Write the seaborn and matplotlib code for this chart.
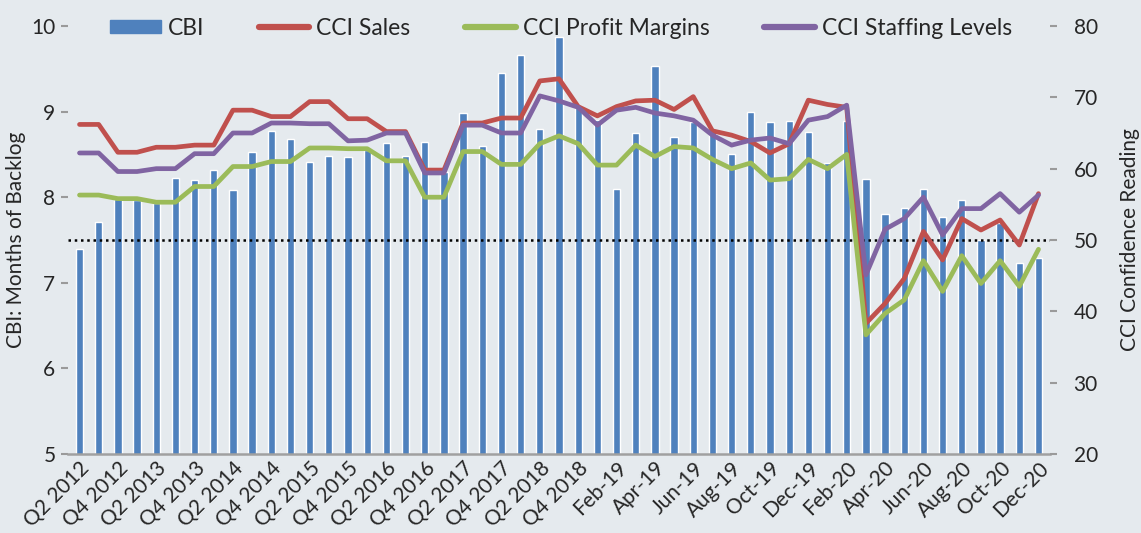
import numpy as np
import pandas as pd
import matplotlib
matplotlib.use("Agg")
import matplotlib.pyplot as plt
import seaborn as sns
from matplotlib.lines import Line2D
from matplotlib.patches import Patch

# ---------------- data ----------------
quarters = ["Q2 2012", "Q3 2012", "Q4 2012"] + [f"Q{q} {y}" for y in range(2013, 2019) for q in range(1, 5)]
months = [f"{m}-{y}" for y in ("19", "20") for m in
          ("Jan", "Feb", "Mar", "Apr", "May", "Jun", "Jul", "Aug", "Sep", "Oct", "Nov", "Dec")]
periods = quarters + months

cbi = [7.40, 7.71, 7.98, 7.97, 7.93, 8.23, 8.20, 8.32, 8.08, 8.53,
       8.77, 8.68, 8.41, 8.48, 8.47, 8.55, 8.63, 8.48, 8.64, 8.30,
       8.98, 8.60, 9.45, 9.66, 8.80, 9.87, 9.06, 8.90, 8.10, 8.75,
       9.53, 8.70, 8.88, 8.78, 8.50, 9.00, 8.88, 8.89, 8.76, 8.40,
       8.89, 8.21, 7.80, 7.87, 8.10, 7.77, 7.97, 7.50, 7.70, 7.23, 7.29]

cci_sales = [66.2, 66.2, 62.3, 62.3, 63.0, 63.0, 63.3, 63.3, 68.2, 68.2,
             67.3, 67.3, 69.4, 69.4, 67.0, 67.0, 65.2, 65.2, 59.8, 59.8,
             66.4, 66.4, 67.1, 67.1, 72.3, 72.6, 68.7, 67.4, 68.7, 69.5,
             69.6, 68.3, 70.1, 65.3, 64.7, 63.8, 62.2, 63.5, 69.6, 69.0,
             68.6, 38.3, 41.1, 44.6, 51.2, 47.2, 53.0, 51.4, 52.8, 49.3, 56.5]

cci_profit = [56.3, 56.3, 55.8, 55.8, 55.3, 55.3, 57.5, 57.5, 60.3, 60.3,
              61.0, 61.0, 62.9, 62.9, 62.8, 62.8, 61.1, 61.1, 56.0, 56.0,
              62.4, 62.4, 60.6, 60.6, 63.5, 64.6, 63.5, 60.5, 60.5, 63.3,
              61.7, 63.1, 62.9, 61.3, 60.0, 60.8, 58.4, 58.6, 61.3, 60.0,
              62.0, 36.7, 39.7, 41.6, 47.1, 42.8, 47.8, 43.9, 47.1, 43.5, 48.7]

cci_staffing = [62.2, 62.2, 59.6, 59.6, 60.0, 60.0, 62.1, 62.1, 65.0, 65.0,
                66.4, 66.4, 66.3, 66.3, 63.9, 64.0, 65.0, 65.0, 59.4, 59.4,
                66.1, 66.1, 65.0, 65.0, 70.2, 69.5, 68.6, 66.1, 68.2, 68.6,
                67.8, 67.4, 66.8, 64.7, 63.3, 64.0, 64.3, 63.5, 66.8, 67.3,
                68.9, 45.1, 51.5, 53.0, 56.0, 50.7, 54.4, 54.4, 56.5, 53.9, 56.3]

series_names = ["CCI Sales", "CCI Profit Margins", "CCI Staffing Levels"]
colors = {"CBI": "#4F81BD", "CCI Sales": "#C0504D",
          "CCI Profit Margins": "#9BBB59", "CCI Staffing Levels": "#8064A2"}

bars = pd.DataFrame({"period": periods, "cbi": cbi})
lines = pd.DataFrame({"pos": np.arange(len(periods)),
                      "CCI Sales": cci_sales,
                      "CCI Profit Margins": cci_profit,
                      "CCI Staffing Levels": cci_staffing})
lines = lines.melt(id_vars="pos", var_name="series", value_name="value")

# ---------------- plot ----------------
bg = "#E5EAEE"
sns.set_theme(style="white")
plt.rcParams["font.family"] = ["Lato", "DejaVu Sans"]

fig = plt.figure(figsize=(11.41, 5.33), dpi=100, facecolor=bg)
ax = fig.add_axes([68 / 1141, 1 - 454 / 533, (1050 - 68) / 1141, (454 - 26) / 533])
ax.set_facecolor(bg)

sns.barplot(data=bars, x="period", y="cbi", order=periods, color=colors["CBI"],
            saturation=1, width=0.38, ax=ax)
ax.set_ylim(5, 10)
ax.set_yticks([5, 6, 7, 8, 9, 10])
ax.set_xticks(range(0, len(periods), 2))
ax.set_xticklabels(periods[::2], rotation=45, ha="right", rotation_mode="anchor", fontsize=15)
ax.tick_params(axis="y", labelsize=15, length=5, width=1.5, color="#9A9A9A", pad=4, left=True)
ax.tick_params(axis="x", length=0, pad=3)
ax.set_xlabel("")
ax.set_ylabel("CBI: Months of Backlog", fontsize=15, labelpad=4)
for s in ("left", "right", "top"):
    ax.spines[s].set_visible(False)
ax.spines["bottom"].set_color("#A0A0A0")
ax.spines["bottom"].set_linewidth(1.8)

ax2 = ax.twinx()
sns.lineplot(data=lines, x="pos", y="value", hue="series", hue_order=series_names,
             palette=colors, linewidth=3.4, ax=ax2, legend=False)
ax2.axhline(50, color="black", linestyle=(0, (1, 1.5)), linewidth=1.8, zorder=1)
ax2.set_ylim(20, 80)
ax2.set_yticks(range(20, 90, 10))
ax2.tick_params(axis="y", labelsize=15, length=5, width=1.5, color="#9A9A9A", pad=12, right=True)
ax2.set_ylabel("CCI Confidence Reading", fontsize=15, labelpad=16)
ax2.set_xlabel("")
for s in ("left", "right", "top", "bottom"):
    ax2.spines[s].set_visible(False)
ax.set_xlim(-0.6, 50.6)

handles = [Patch(color=colors["CBI"])] + [Line2D([], [], color=colors[n], linewidth=4.5,
                                                 solid_capstyle="round") for n in series_names]
ax2.legend(handles, ["CBI"] + series_names, ncol=4, loc="center", bbox_to_anchor=(0.502, 0.995),
           frameon=False, fontsize=16.5, handlelength=2.2, handleheight=0.45,
           columnspacing=2.4, handletextpad=0.3, borderaxespad=0)

fig.savefig("out.png", dpi=100, facecolor=bg)
